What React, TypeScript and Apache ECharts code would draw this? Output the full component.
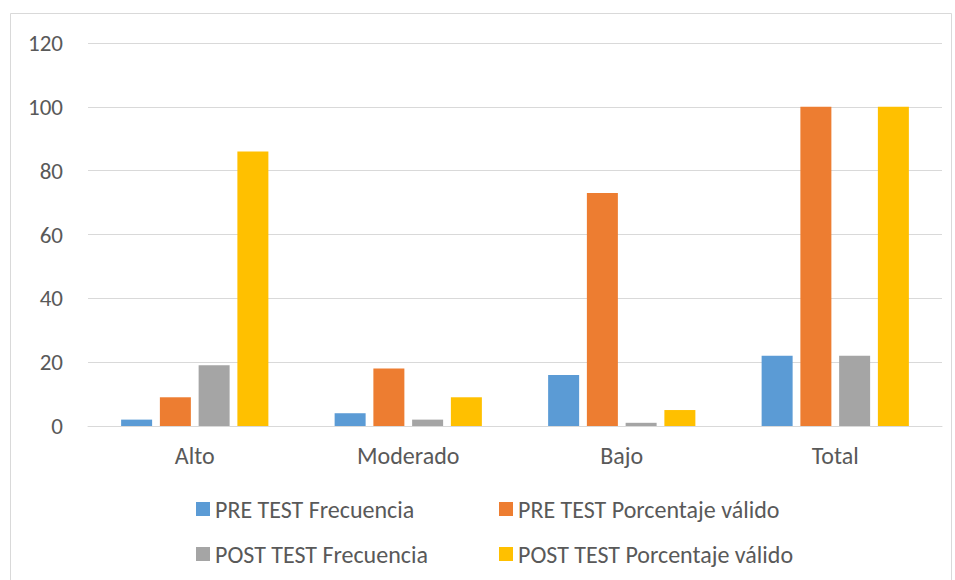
import React, { useEffect, useRef } from "react";
import * as echarts from "echarts";

const categories = ["Alto", "Moderado", "Bajo", "Total"];
const preFrecuencia = [2, 4, 16, 22];
const prePorcentaje = [9, 18, 73, 100];
const postFrecuencia = [19, 2, 1, 22];
const postPorcentaje = [86, 9, 5, 100];
const seriesNames = [
  "PRE TEST Frecuencia",
  "PRE TEST Porcentaje válido",
  "POST TEST Frecuencia",
  "POST TEST Porcentaje válido",
];
const colors = ["#5B9BD5", "#ED7D31", "#A5A5A5", "#FFC000"];

const FONT = "Carlito, 'Liberation Sans', sans-serif";

export default function App() {
  const ref = useRef<HTMLDivElement>(null);
  useEffect(() => {
    document.body.style.margin = "0";
    const chart = echarts.init(ref.current!, null, { renderer: "svg" });
    const dataSets = [preFrecuencia, prePorcentaje, postFrecuencia, postPorcentaje];
    const legendPos = [
      { left: 191, top: 492 },
      { left: 494, top: 492 },
      { left: 191, top: 537 },
      { left: 494, top: 537 },
    ];
    chart.setOption({
      animation: false,
      color: colors,
      graphic: [
        {
          type: "rect",
          shape: { x: 10.5, y: 13.5, width: 941, height: 580 },
          style: { fill: "none", stroke: "#d9d9d9", lineWidth: 1 },
          silent: true,
        },
      ],
      grid: { left: 88, right: 13, top: 43, bottom: 154 },
      legend: seriesNames.map((n, i) => ({
        data: [n],
        left: legendPos[i].left,
        top: legendPos[i].top,
        itemWidth: 14,
        itemHeight: 14,
        icon: "rect",
        textStyle: { color: "#595959", fontSize: 24, fontFamily: FONT },
      })),
      xAxis: {
        type: "category",
        data: categories,
        axisLine: { lineStyle: { color: "#d9d9d9", width: 1 } },
        axisTick: { show: false },
        axisLabel: { color: "#595959", fontSize: 24, fontFamily: FONT, margin: 17 },
      },
      yAxis: {
        type: "value",
        min: 0,
        max: 120,
        interval: 20,
        axisLine: { show: false },
        axisTick: { show: false },
        axisLabel: { color: "#595959", fontSize: 23, fontFamily: FONT, margin: 25 },
        splitLine: { lineStyle: { color: "#d9d9d9", width: 1 } },
      },
      series: seriesNames.map((n, i) => ({
        name: n,
        type: "bar",
        data: dataSets[i],
        barWidth: 31,
        barGap: "25%",
        itemStyle: { color: colors[i] },
      })),
    });
    return () => chart.dispose();
  }, []);
  return <div ref={ref} style={{ width: 955, height: 580 }} />;
}
